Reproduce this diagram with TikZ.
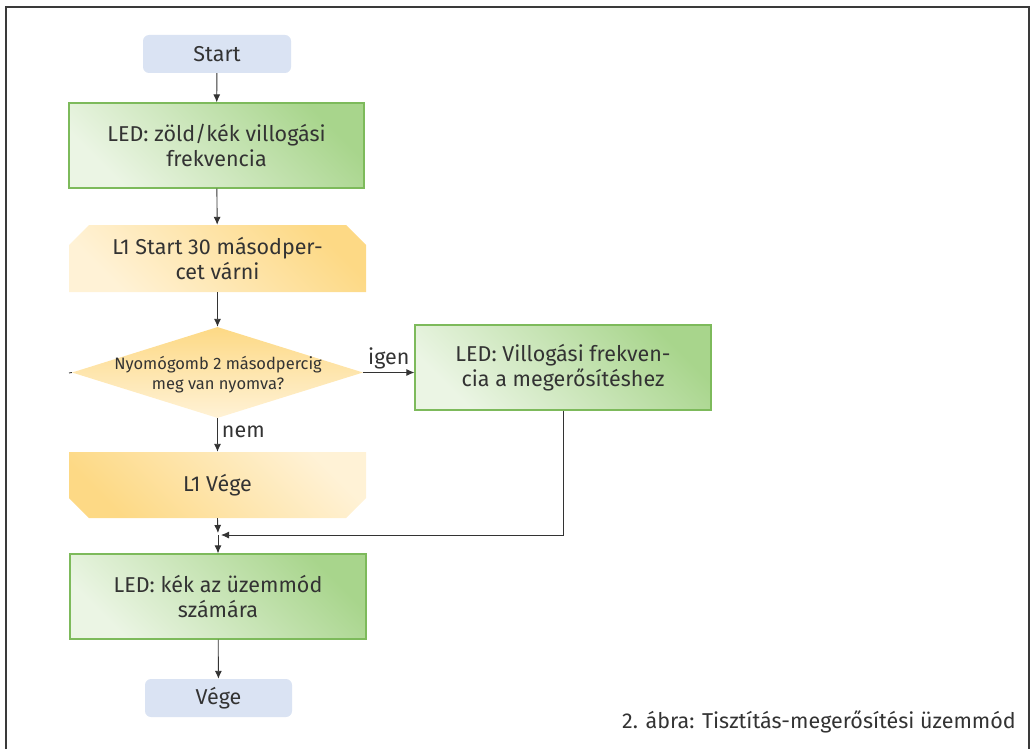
\documentclass[tikz,border=0pt]{standalone}
\usepackage{fontspec}
\setmainfont{Fira Sans}
\usetikzlibrary{shapes.geometric,shapes.misc,arrows.meta}
\definecolor{txt}{HTML}{333333}
\definecolor{bluebox}{HTML}{DAE3F3}
\definecolor{gborder}{HTML}{7DBA5B}
\definecolor{gdark}{HTML}{A8D58C}
\definecolor{glight}{HTML}{EBF5E4}
\definecolor{odark}{HTML}{FDD985}
\definecolor{olight}{HTML}{FFF2D6}
\definecolor{frame}{HTML}{3A3A3A}
\tikzset{
  x=1pt,y=-1pt,
  every node/.style={text=txt,font=\fontsize{21.5}{25}\selectfont,align=center,inner sep=0pt},
  termbox/.style={rounded corners=6pt,fill=bluebox,minimum width=148pt,minimum height=38pt},
  greenbox/.style={draw=gborder,line width=1.2pt,left color=glight,right color=gdark,shading angle=135,minimum width=295pt,minimum height=85pt},
  orangetop/.style={chamfered rectangle,chamfered rectangle corners={north west,north east},chamfered rectangle xsep=10pt,chamfered rectangle ysep=10pt,left color=olight,right color=odark,shading angle=135,minimum width=297pt,minimum height=67pt},
  orangebot/.style={chamfered rectangle,chamfered rectangle corners={south west,south east},chamfered rectangle xsep=10pt,chamfered rectangle ysep=10pt,left color=odark,right color=olight,shading angle=135,minimum width=297pt,minimum height=66pt},
  decision/.style={diamond,top color=odark,bottom color=olight,minimum width=291pt,minimum height=91pt},
  conn/.style={draw=txt,line width=0.9pt,-{Latex[length=8pt,width=7pt]}},
  plainline/.style={draw=txt,line width=0.9pt},
}
\begin{document}
\begin{tikzpicture}
\useasboundingbox (0,0) rectangle (1035,749);
\draw[frame,line width=2pt] (6,749) -- (6,7) -- (1029,7) -- (1029,749);

\node[termbox] (start) at (217,54) {Start};
\node[greenbox] (g1) at (216.5,145.5) {LED: zöld/kék villogási\\frekvencia};
\node[orangetop] (o1) at (217.5,258.5) {L1 Start 30 másodper-\\cet várni};
\node[decision] (d) at (217.5,372.5) {};
\node[font=\fontsize{16.5}{20}\selectfont] (dt) at (218,375) {Nyomógomb 2 másodpercig\\meg van nyomva?};
\node[greenbox,minimum width=296pt] (g2) at (563,367.5) {LED: Villogási frekven-\\cia a megerősítéshez};
\node[orangebot] (o2) at (217.5,485) {L1 Vége};
\node[greenbox,minimum width=296pt] (g3) at (218,596.5) {LED: kék az üzemmód\\számára};
\node[termbox,minimum width=147pt] (vege) at (218.5,698) {Vége};
\coordinate (j) at (218,535);
\coordinate (stub) at (69,373);

\draw[conn] (start) -- (g1);
\draw[conn] (g1) -- (o1);
\draw[conn] (o1.south) -- (d.north);
\draw[conn] (d.east) -- node[above=3pt] (igen) {igen} (d.east -| g2.west);
\draw[conn] (d.south) -- node[right=4pt,pos=0.4] (nem) {nem} (o2.north);
\draw[conn,shorten >=2pt] (o2.south) -- (j);
\draw[conn,shorten >=3pt] (g2.south) |- (j);
\draw[conn] (j) -- (g3.north);
\draw[conn] (g3) -- (vege);
\draw[plainline] (d.west) -- (stub);

\node[anchor=east] (cap) at (1016,722) {2. ábra: Tisztítás-megerősítési üzemmód};
\end{tikzpicture}
\end{document}
